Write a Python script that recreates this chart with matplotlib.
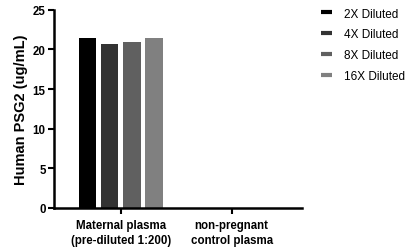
import numpy as np
import matplotlib
matplotlib.use("Agg")
import matplotlib.pyplot as plt
from matplotlib.lines import Line2D

plt.rcParams["font.family"] = ["Liberation Sans", "DejaVu Sans"]

groups = ["Maternal plasma\n(pre-diluted 1:200)", "non-pregnant\ncontrol plasma"]
series = ["2X Diluted", "4X Diluted", "8X Diluted", "16X Diluted"]
values = {
    "2X Diluted": [21.4, 0.0],
    "4X Diluted": [20.7, 0.0],
    "8X Diluted": [20.9, 0.0],
    "16X Diluted": [21.4, 0.0],
}
colors = ["#000000", "#333333", "#606060", "#808080"]

fig = plt.figure(figsize=(4.1, 2.53), dpi=100)
ax = fig.add_axes([54 / 410, 1 - 209 / 253, (302 - 54) / 410, (209 - 10.7) / 253])

x = np.arange(len(groups))
width = 0.158
offsets = [-0.3, -0.1, 0.1, 0.3]
for name, off, c in zip(series, offsets, colors):
    ax.bar(x + off, values[name], width, color=c, label=name)

ax.set_xlim(-0.6, 1.633)
ax.set_ylim(0, 25)
ax.set_yticks([0, 5, 10, 15, 20, 25])
ax.set_xticks(x)
ax.set_xticklabels(groups, fontsize=8.3, fontweight="bold", linespacing=1.3)
for lbl in ax.get_yticklabels():
    lbl.set_fontsize(8.3)
    lbl.set_fontweight("bold")
ax.set_ylabel("Human PSG2 (ug/mL)", fontsize=10.5, fontweight="bold", labelpad=3)

for s in ["top", "right"]:
    ax.spines[s].set_visible(False)
for s in ["left", "bottom"]:
    ax.spines[s].set_linewidth(1.8)
ax.tick_params(axis="both", width=1.5, length=4, pad=2)
ax.tick_params(axis="x", pad=4)

handles = [Line2D([0], [0], color=c, lw=3, solid_capstyle="butt") for c in colors]
fig.legend(handles, series, loc="upper left", bbox_to_anchor=(310 / 410, 1 + 2 / 253),
           frameon=False, fontsize=8.5, handlelength=0.95, handletextpad=1.0,
           labelspacing=0.75)

fig.savefig("out.png", dpi=100)
